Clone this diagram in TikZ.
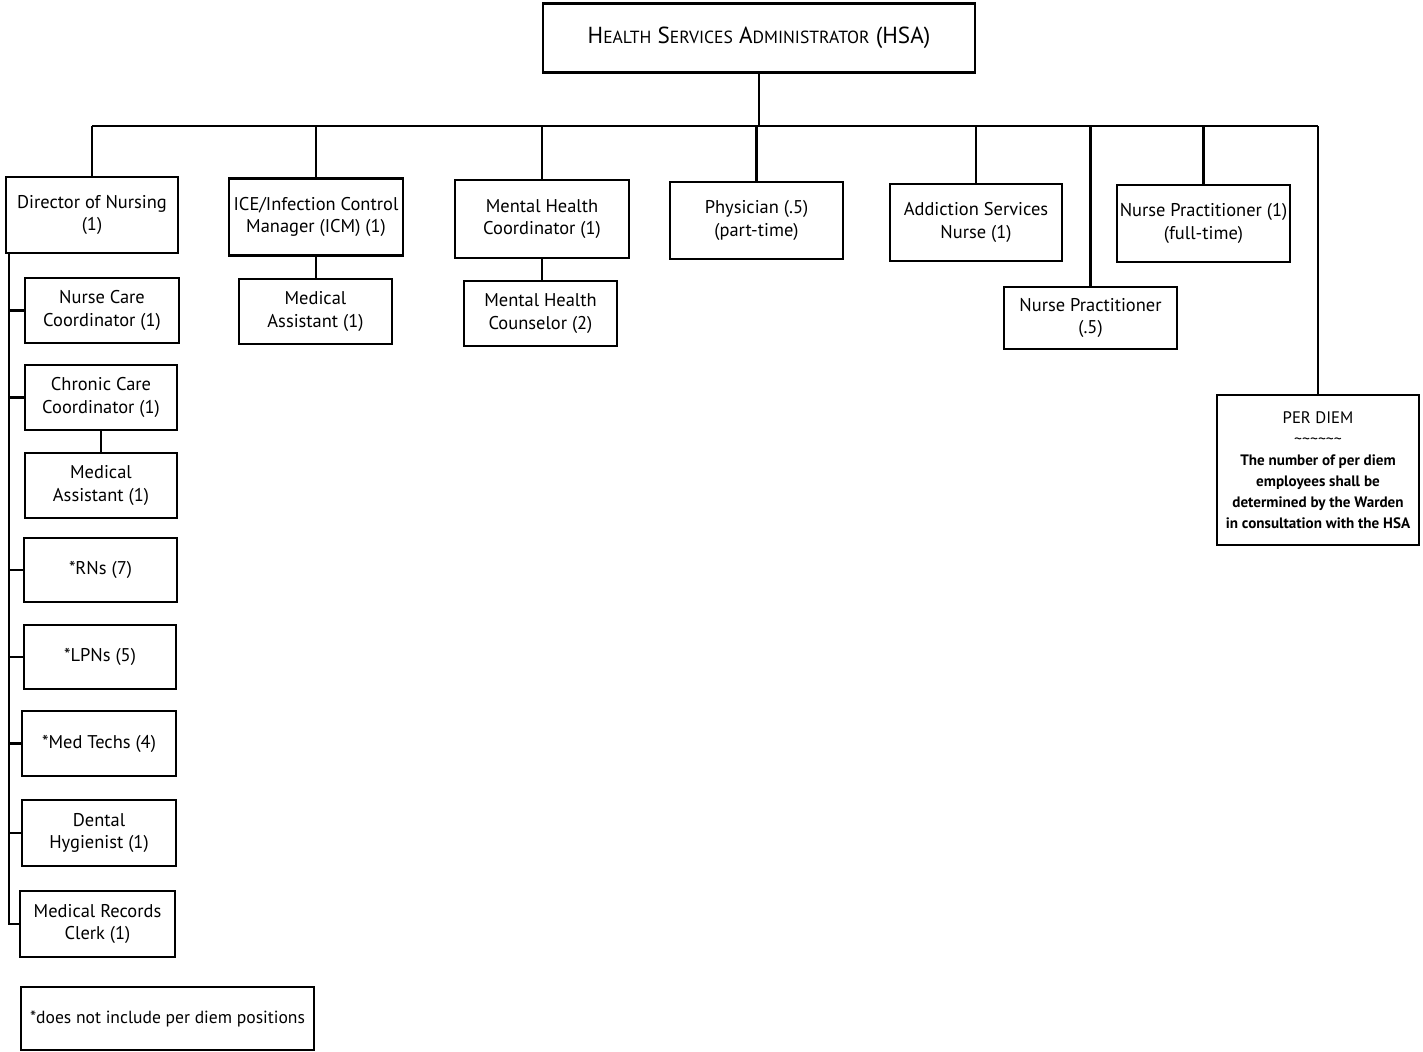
\documentclass[tikz,border=0pt]{standalone}
\usepackage{fontspec}
\setmainfont{PT Sans}
\newcommand{\smcp}[1]{{\fontsize{10}{11}\selectfont #1}}
\begin{document}
\begin{tikzpicture}[x=0.2mm,y=-0.2mm,line width=1.3pt,
  box/.style 2 args={draw,align=center,inner sep=1pt,
    minimum width=#1*0.2mm,minimum height=#2*0.2mm,
    font=\fontsize{10.5}{13}\selectfont}]
  \useasboundingbox (0,0) rectangle (1423,1052);
  \node [box={432}{69},font=\fontsize{13.2}{14}\selectfont] (hsa) at (759,38)
    {H\smcp{EALTH} S\smcp{ERVICES} A\smcp{DMINISTRATOR} (HSA)};
  \node [box={172}{76}]  (don) at (92,215)     {Director of Nursing\\(1)};
  \node [box={174}{77}]  (ice) at (316,217)    {ICE/Infection Control\\Manager (ICM) (1)};
  \node [box={153}{65}]  (ma1) at (315.5,311.5) {Medical\\Assistant (1)};
  \node [box={174}{78}]  (mhc) at (542,219)    {Mental Health\\Coordinator (1)};
  \node [box={153}{65}]  (mhs) at (540.5,313.5) {Mental Health\\Counselor (2)};
  \node [box={173}{77}]  (phy) at (756.5,220.5) {Physician (.5)\\(part-time)};
  \node [box={172}{77}]  (asn) at (976,222.5)  {Addiction Services\\Nurse (1)};
  \node [box={173}{77}]  (np1) at (1203.5,223.5) {Nurse Practitioner (1)\\(full-time)};
  \node [box={173}{62}]  (np5) at (1090.5,318) {Nurse Practitioner\\(.5)};
  \node [box={202}{150},font=\bfseries\fontsize{8.6}{12}\selectfont] (pd) at (1318,470)
    {{\mdseries\fontsize{9.5}{12}\selectfont PER DIEM}\\
     {\mdseries\fontsize{9}{12}\selectfont\textasciitilde\textasciitilde\textasciitilde\textasciitilde\textasciitilde\textasciitilde}\\
     The number of per diem\\employees shall be\\determined by the Warden\\in consultation with the HSA};
  \node [box={154}{65}]  (ncc) at (102,310.5)  {Nurse Care\\Coordinator (1)};
  \node [box={152}{65}]  (ccc) at (101,397.5)  {Chronic Care\\Coordinator (1)};
  \node [box={152}{65}]  (ma2) at (101,485.5)  {Medical\\Assistant (1)};
  \node [box={153}{64}]  (rn)  at (100.5,570)  {*RNs (7)};
  \node [box={152}{64}]  (lpn) at (100,657)    {*LPNs (5)};
  \node [box={154}{65}]  (mt)  at (99,743.5)   {*Med Techs (4)};
  \node [box={154}{66}]  (dh)  at (99,833)     {Dental\\Hygienist (1)};
  \node [box={155}{66}]  (mrc) at (97.5,924)   {Medical Records\\Clerk (1)};
  \node [box={293}{63},font=\fontsize{10}{13}\selectfont] (note) at (167.5,1018.5)
    {*does not include per diem positions};
  \coordinate (bus) at (759,126);
  \coordinate (spine) at (9,253);
  \draw (hsa.south) -- (bus);
  \draw (don.north |- bus) -- (pd.north |- bus);
  \foreach \n in {don,ice,mhc,phy,asn,np1,np5,pd}
    \draw (\n.north |- bus) -- (\n.north);
  \draw (ice.south) -- (ice.south |- ma1.north);
  \draw (mhc.south) -- (mhc.south |- mhs.north);
  \draw (ccc.south) -- (ccc.south |- ma2.north);
  \draw (spine) |- (mrc.west);
  \foreach \n in {ncc,ccc,rn,lpn,mt,dh}
    \draw (spine |- \n.west) -- (\n.west);
\end{tikzpicture}
\end{document}
